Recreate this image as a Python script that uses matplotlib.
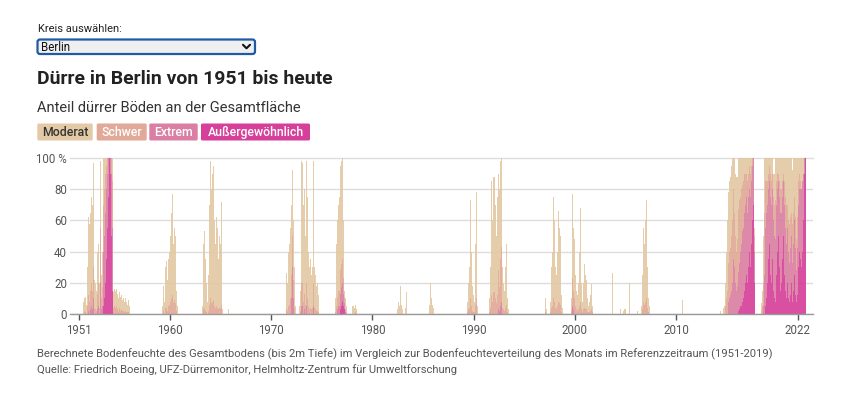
import matplotlib
matplotlib.use("Agg")
import matplotlib.pyplot as plt
import numpy as np
from matplotlib.patches import FancyBboxPatch

plt.rcParams['font.family'] = ['Roboto', 'DejaVu Sans']

# ---------------- data ----------------
categories = ["Moderat", "Schwer", "Extrem", "Außergewöhnlich"]
cat_colors = ["#e3c9a5", "#e1a997", "#da7fa3", "#d6409a"]
year_ticks = [1951, 1960, 1970, 1980, 1990, 2000, 2010, 2022]
y_ticks = [0, 20, 40, 60, 80, 100]
y_tick_labels = ["0", "20", "40", "60", "80", "100 %"]

# total share of area in drought (top of stacked bar), monthly, per episode
total_1951_start, total_1951 = "1951-06", [8, 10, 11, 6, 12, 30, 62, 58, 65, 75, 50, 70, 97, 22, 20, 15, 40, 12, 45, 20, 98, 25, 40, 60, 100,
                                           100, 100, 100, 100, 100, 100, 100, 100, 100, 100,
                                           14, 12, 16, 15, 16, 13, 10, 12, 14, 11, 12, 9, 10, 8, 12, 10, 8, 6, 9, 5, 3]
total_1959_start, total_1959 = "1959-04", [5, 18, 8, 30, 34, 22, 20, 35, 40, 50, 65, 77, 60, 45, 55, 50, 15, 5]
total_1963_start, total_1963 = "1963-03", [5, 45, 53, 35, 48, 20, 8, 25, 70, 98, 85, 80, 90, 95, 60, 45, 40, 62, 55, 35, 50, 45, 72, 15, 3,
                                           0, 0, 0, 0, 0, 0, 3]
total_1971_start, total_1971 = "1971-06", [5, 26, 20, 40, 45, 55, 70, 85, 92, 60, 30, 5, 0, 0, 0, 0, 5, 15, 98, 60, 97, 70, 80, 50, 98,
                                           75, 85, 40, 30, 35, 25, 30, 40, 98, 30, 25, 18, 20, 12, 8]
total_1976_start, total_1976 = "1976-05", [10, 45, 60, 70, 75, 85, 95, 98, 100, 60, 15, 12, 10, 5, 0, 0, 0, 0, 0, 0, 5, 5, 4, 6, 27, 3]
total_1982_start, total_1982 = "1982-06", [3, 8, 10, 5, 18, 6, 3, 0, 0, 0, 4, 14]
total_1985_start, total_1985 = "1985-08", [6, 20, 10, 12, 6, 4]
total_1989_start, total_1989 = "1989-05", [8, 20, 45, 30, 73, 40, 18, 12, 8, 5, 45, 78, 5]
total_1991_start, total_1991 = "1991-07", [10, 30, 55, 85, 60, 88, 88, 70, 45, 50, 75, 90, 80, 98, 100, 60, 30, 20, 15, 30, 45, 94, 10, 3]
total_1997_start, total_1997 = "1997-01", [4, 10, 3, 0, 0, 0, 0, 8, 30, 40, 75, 60, 45, 30, 25, 40, 66, 55, 50, 30, 12, 4,
                                           0, 0, 0, 0, 0, 0, 0, 0, 0,
                                           10, 48, 77, 55, 48, 25, 15, 10, 12, 20, 40, 68, 20, 5, 8, 20, 32, 25, 22, 10,
                                           5, 5, 8, 12, 19, 5, 2]
total_2003_start, total_2003 = "2003-09", [26, 0, 0, 0, 0, 0, 0, 0, 0, 0, 3, 0, 0, 2, 3, 2, 3, 0, 0, 0, 20, 0, 0, 0, 0, 0, 0, 0, 0, 0, 2]
total_2006_start, total_2006 = "2006-07", [5, 10, 25, 55, 45, 60, 73, 50, 30, 10, 5]
total_2010_start, total_2010 = "2010-08", [9]
total_2014_start, total_2014 = "2014-05", [2, 0, 3, 0, 4, 5,
                                           20, 40, 60, 70, 78, 85, 88, 95, 100, 100, 100, 100, 90, 88, 88, 90,
                                           100, 100, 100, 100, 100, 100, 100, 100, 100, 100, 100, 100, 100, 100, 100, 100, 100, 100,
                                           55]
total_2018_start, total_2018 = "2018-06", [7, 15, 50,
                                           100, 100, 100, 100, 100, 100, 100, 100, 100, 100, 100,
                                           90, 90,
                                           100, 100, 100, 100, 100, 100, 100, 100, 100, 100, 100, 100, 100, 100, 100, 100, 100, 100, 100, 100, 100,
                                           92,
                                           100, 100, 100, 100, 100, 100, 100, 100, 100, 100, 100, 100, 100, 100, 100]

# "Schwer" share
sev_1951_start, sev_1951 = "1951-06", [0, 2, 1, 0, 2, 5, 10, 8, 12, 15, 8, 12, 20, 4, 3, 2, 10, 2, 15, 4, 35, 7, 12, 20, 30,
                                       30, 25, 15, 10, 0, 0, 0, 0, 10, 30,
                                       4, 3, 5, 4, 5, 3, 2, 3, 4, 2, 3, 2, 2, 1, 2, 2, 1, 1, 1, 0, 0]
sev_1959_start, sev_1959 = "1959-04", [0, 2, 0, 4, 4, 2, 2, 5, 6, 8, 10, 12, 10, 7, 9, 7, 2, 0]
sev_1963_start, sev_1963 = "1963-03", [0, 3, 4, 2, 3, 1, 0, 2, 6, 10, 8, 7, 8, 9, 5, 4, 3, 5, 4, 3, 4, 4, 6, 1, 0]
sev_1971_start, sev_1971 = "1971-06", [0, 3, 2, 5, 6, 10, 15, 20, 20, 12, 4, 0, 0, 0, 0, 0, 0, 2, 15, 8, 15, 8, 10, 6, 15,
                                       10, 12, 5, 3, 4, 3, 4, 5, 15, 4, 3, 2, 2, 1, 1]
sev_1976_start, sev_1976 = "1976-05", [1, 5, 8, 10, 10, 12, 15, 15, 15, 10, 3, 2, 2, 1, 0, 0, 0, 0, 0, 0, 0, 0, 0, 1, 4, 0]
sev_1989_start, sev_1989 = "1989-05", [1, 3, 6, 4, 10, 5, 2, 1, 1, 0, 6, 10, 0]
sev_1991_start, sev_1991 = "1991-07", [1, 4, 7, 12, 8, 14, 14, 10, 6, 7, 12, 25, 15, 30, 35, 10, 4, 3, 2, 4, 6, 15, 1, 0]
sev_1997_start, sev_1997 = "1997-01", [0, 1, 0, 0, 0, 0, 0, 1, 4, 5, 10, 8, 6, 4, 3, 5, 8, 7, 6, 4, 1, 0,
                                       0, 0, 0, 0, 0, 0, 0, 0, 0,
                                       2, 10, 18, 12, 10, 5, 3, 2, 2, 3, 5, 8, 3, 1, 1, 3, 4, 3, 3, 1,
                                       1, 1, 1, 2, 3, 1, 0]
sev_2006_start, sev_2006 = "2006-07", [0, 1, 3, 7, 6, 8, 10, 7, 4, 1, 0]
sev_2014_start, sev_2014 = "2014-05", [0, 0, 0, 0, 0, 0,
                                       5, 10, 15, 20, 25, 30, 30, 35, 40, 45, 45, 35, 30, 25, 30, 35,
                                       40, 40, 35, 35, 30, 30, 25, 25, 20, 15, 20, 15, 15, 15, 15, 10, 5, 0, 10]
sev_2018_start, sev_2018 = "2018-06", [2, 5, 15, 40, 40, 30, 20, 15, 10, 10, 15, 20, 15, 10, 15, 20, 25, 20, 15, 10, 5, 10, 15, 20, 15,
                                       10, 5, 15, 20, 25, 20, 15, 20, 25, 20, 15, 20, 25, 20, 15, 20, 20, 20, 20, 15, 10, 5,
                                       0, 0, 0, 0, 0, 0]

# "Extrem" share
ext_1951_start, ext_1951 = "1951-06", [0, 0, 0, 0, 0, 0, 2, 0, 3, 5, 2, 3, 10, 0, 0, 0, 3, 0, 5, 0, 20, 3, 5, 15, 35,
                                       40, 45, 45, 35, 25, 5, 0, 10, 40, 40]
ext_1971_start, ext_1971 = "1971-06", [0, 0, 0, 0, 0, 0, 10, 25, 30, 10, 0, 0, 0, 0, 0, 0, 0, 0, 5, 0, 5, 0, 3, 0, 5,
                                       0, 3, 0, 0, 0, 0, 0, 0, 5]
ext_1976_start, ext_1976 = "1976-07", [3, 5, 5, 8, 10, 12, 12, 8, 4, 2, 1]
ext_1992_start, ext_1992 = "1992-06", [3, 2, 5, 8, 2]
ext_1999_start, ext_1999 = "1999-09", [2, 5, 3]
ext_2014_start, ext_2014 = "2014-05", [0, 0, 0, 0, 0, 0,
                                       0, 0, 0, 5, 8, 10, 12, 15, 20, 25, 35, 30, 20, 15, 18, 20,
                                       25, 30, 35, 40, 45, 45, 50, 50, 50, 50, 45, 45, 45, 40, 45, 40, 35, 30, 20]
ext_2018_start, ext_2018 = "2018-06", [0, 0, 5, 25, 40, 50, 55, 50, 45, 40, 50, 50, 50, 45, 45, 40, 40, 50, 45, 40, 35, 45, 50, 45, 45,
                                       40, 35, 45, 40, 35, 35, 35, 30, 25, 30, 30, 25, 25, 30, 35, 30, 20, 30, 40, 40, 40, 45,
                                       50, 45, 40, 30, 10, 0]

# "Außergewöhnlich" share
exc_1953_start, exc_1953 = "1953-06", [5, 10, 20, 35, 55, 75, 95, 100, 90, 50, 15]
exc_1976_start, exc_1976 = "1976-11", [3, 5, 8, 5, 3]
exc_2016_start, exc_2016 = "2016-03", [2, 3, 5, 5, 8, 10, 12, 15, 20, 25, 20, 30, 35, 40, 30, 45, 60, 70, 20]
exc_2018_start, exc_2018 = "2018-06", [0, 0, 0, 0, 3, 5, 10, 20, 35, 45, 25, 15, 20, 35, 15, 10, 8, 15, 25, 40, 50, 30, 15, 10, 20,
                                       35, 50, 25, 15, 10, 12, 20, 10, 8, 12, 20, 10, 8, 15, 25, 12, 8, 12, 20, 30, 40, 35,
                                       30, 40, 45, 60, 90, 100]

footer1 = ("Berechnete Bodenfeuchte des Gesamtbodens (bis 2m Tiefe) im Vergleich zur "
           "Bodenfeuchteverteilung des Monats im Referenzzeitraum (1951-2019)")
footer2 = "Quelle: Friedrich Boeing, UFZ-Dürremonitor, Helmholtz-Zentrum für Umweltforschung"

# ---------------- assemble monthly series ----------------
N = (2022 - 1951 + 1) * 12


def month_index(s):
    y, m = s.split("-")
    return (int(y) - 1951) * 12 + int(m) - 1


def series(segments):
    arr = np.zeros(N)
    for start, vals in segments:
        i = month_index(start)
        arr[i:i + len(vals)] = vals
    return arr


total = series([(total_1951_start, total_1951), (total_1959_start, total_1959), (total_1963_start, total_1963),
                (total_1971_start, total_1971), (total_1976_start, total_1976), (total_1982_start, total_1982),
                (total_1985_start, total_1985), (total_1989_start, total_1989), (total_1991_start, total_1991),
                (total_1997_start, total_1997), (total_2003_start, total_2003), (total_2006_start, total_2006),
                (total_2010_start, total_2010), (total_2014_start, total_2014), (total_2018_start, total_2018)])
sev = series([(sev_1951_start, sev_1951), (sev_1959_start, sev_1959), (sev_1963_start, sev_1963),
              (sev_1971_start, sev_1971), (sev_1976_start, sev_1976), (sev_1989_start, sev_1989),
              (sev_1991_start, sev_1991), (sev_1997_start, sev_1997), (sev_2006_start, sev_2006),
              (sev_2014_start, sev_2014), (sev_2018_start, sev_2018)])
ext = series([(ext_1951_start, ext_1951), (ext_1971_start, ext_1971), (ext_1976_start, ext_1976),
              (ext_1992_start, ext_1992), (ext_1999_start, ext_1999), (ext_2014_start, ext_2014),
              (ext_2018_start, ext_2018)])
exc = series([(exc_1953_start, exc_1953), (exc_1976_start, exc_1976), (exc_2016_start, exc_2016),
              (exc_2018_start, exc_2018)])
mod = np.clip(total - exc - ext - sev, 0, None)

# ---------------- figure ----------------
W, H = 844, 395
fig = plt.figure(figsize=(W / 100, H / 100), dpi=100)
fig.patch.set_facecolor("white")


def fx(x):
    return x / W


def fy(y):
    return 1 - y / H


ax = fig.add_axes([fx(70), fy(314), (813 - 70) / W, (314 - 158) / H])
x = 1951 + np.arange(N) / 12.0
bottom = np.zeros(N)
for vals, color in zip([exc, ext, sev, mod], [cat_colors[3], cat_colors[2], cat_colors[1], cat_colors[0]]):
    m = vals > 0
    ax.bar(x[m], vals[m], width=1 / 12.0, bottom=bottom[m], align="edge", color=color,
           linewidth=0, alpha=0.92, zorder=2)
    bottom += vals

ax.set_xlim(1950.11, 2023.53)
ax.set_ylim(0, 100)
ax.set_yticks(y_ticks)
ax.set_yticklabels(y_tick_labels)
ax.set_xticks(year_ticks)
ax.set_xticklabels([str(v) for v in year_ticks])
ax.yaxis.grid(True, color="#dddddd", linewidth=1, zorder=0)
ax.set_axisbelow(True)
for s in ["left", "right", "top"]:
    ax.spines[s].set_visible(False)
ax.spines["bottom"].set_color("#999999")
ax.spines["bottom"].set_linewidth(1)
ax.spines["bottom"].set_zorder(3)
ax.tick_params(axis="y", length=0, pad=2, labelsize=8.3, labelcolor="#555555")
ax.tick_params(axis="x", length=4, width=1, color="#555555", pad=3, labelsize=8.3, labelcolor="#555555")
ax.get_ygridlines()[-1].set_clip_on(False)

# overlay in pixel coordinates
ov = fig.add_axes([0, 0, 1, 1], zorder=5)
ov.set_xlim(0, W)
ov.set_ylim(H, 0)
ov.axis("off")
ov.patch.set_alpha(0)

renderer = fig.canvas.get_renderer()


def fit(t, target):
    bb = t.get_window_extent(renderer=renderer)
    t.set_fontsize(t.get_fontsize() * target / bb.width)
    return t


ov.text(38, 31.5, "Kreis auswählen:", fontsize=8, color="#222222", va="baseline")
ov.add_patch(FancyBboxPatch((37.5, 39.5), 217.5, 14.5, boxstyle="round,pad=0,rounding_size=2.5",
                            facecolor="#efefef", edgecolor="#1f5aa6", linewidth=1.6))
ov.text(41, 51, "Berlin", fontsize=8.3, color="#111111", va="baseline")
ov.plot([243, 246.5, 250], [44.8, 48.3, 44.8], color="#111111", linewidth=1.5, solid_capstyle="round")

t = ov.text(37, 84, "Dürre in Berlin von 1951 bis heute", fontsize=14, fontweight="bold",
            color="#222222", va="baseline")
fit(t, 296)
t = ov.text(37, 111.5, "Anteil dürrer Böden an der Gesamtfläche", fontsize=10.5, color="#333333", va="baseline")
fit(t, 264)

legend_boxes = [(37.3, 92.7), (96.7, 146.7), (149.3, 197.7), (201, 310)]
legend_text_colors = ["#333333", "white", "white", "white"]
for (x0, x1), name, col, tcol in zip(legend_boxes, categories, cat_colors, legend_text_colors):
    ov.add_patch(FancyBboxPatch((x0, 123.5), x1 - x0, 17, boxstyle="round,pad=0,rounding_size=1.5",
                                facecolor=col, edgecolor="none"))
    ov.text((x0 + x1) / 2, 136.3, name, fontsize=8.8, fontweight="medium", color=tcol,
            ha="center", va="baseline")

t = ov.text(37, 357, footer1, fontsize=7.5, color="#555555", va="baseline")
fit(t, 740)
ov.text(37, 373, footer2, fontsize=t.get_fontsize(), color="#555555", va="baseline")

fig.savefig("out.png", dpi=100, facecolor="white")
